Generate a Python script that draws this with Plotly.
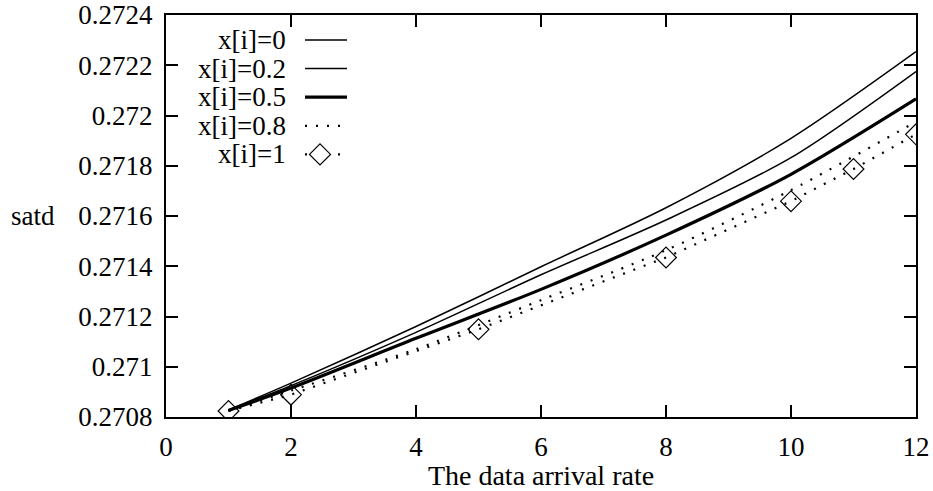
import plotly.graph_objects as go

# ---- data ----
x_lines = [1, 2, 4, 6, 8, 10, 12]
s_0 = [0.270828, 0.270935, 0.271160, 0.271398, 0.271633, 0.271909, 0.272254]
s_02 = [0.270828, 0.270925, 0.271137, 0.271366, 0.271584, 0.271832, 0.272175]
s_05 = [0.270826, 0.270915, 0.271113, 0.271308, 0.271524, 0.271766, 0.272066]
s_08 = [0.270824, 0.270905, 0.271070, 0.271265, 0.271464, 0.271703, 0.271975]
x_diam = [1, 2, 5, 8, 10, 11, 12]
s_1 = [0.270824, 0.270889, 0.271149, 0.271435, 0.271659, 0.271787, 0.271925]

labels = ["x[i]=0", "x[i]=0.2", "x[i]=0.5", "x[i]=0.8", "x[i]=1"]
x_ticks = [0, 2, 4, 6, 8, 10, 12]
y_ticks = [0.2708, 0.271, 0.2712, 0.2714, 0.2716, 0.2718, 0.272, 0.2722, 0.2724]
y_ticktext = ["0.2708", "0.271", "0.2712", "0.2714", "0.2716", "0.2718", "0.272", "0.2722", "0.2724"]

FONT = "'Liberation Serif', 'DejaVu Serif', serif"
FS = 27
W, H = 933, 491
ML, MR, MT, MB = 166, 17, 15, 74
PW = W - ML - MR
PH = H - MT - MB

styles = [
    dict(width=1.5, dash="solid"),
    dict(width=1.5, dash="solid"),
    dict(width=3.2, dash="solid"),
    dict(width=2.2, dash="2px,9px"),
    dict(width=2.2, dash="2px,9px"),
]

fig = go.Figure()
series = [(x_lines, s_0), (x_lines, s_02), (x_lines, s_05), (x_lines, s_08)]
for (xs, ys), st, lab in zip(series, styles[:4], labels[:4]):
    fig.add_trace(go.Scatter(x=xs, y=ys, mode="lines", name=lab, showlegend=False,
                             line=dict(color="black", width=st["width"], dash=st["dash"],
                                       shape="spline", smoothing=0.8)))
fig.add_trace(go.Scatter(x=x_diam, y=s_1, mode="lines+markers", name=labels[4], showlegend=False,
                         line=dict(color="black", width=styles[4]["width"], dash=styles[4]["dash"]),
                         marker=dict(symbol="diamond-open", size=16, color="black", line=dict(width=1.2))))

# ---- manual gnuplot-style legend (text right-aligned, sample on the right) ----
def px_to_paper_x(px):
    return (px - ML) / PW

def py_to_paper_y(py):
    return 1 - (py - MT) / PH

text_right = px_to_paper_x(288)
sx0, sx1 = px_to_paper_x(305), px_to_paper_x(347)
for i, (lab, st) in enumerate(zip(labels, styles)):
    yy = py_to_paper_y(40 + 28.6 * i)
    fig.add_annotation(x=text_right, y=yy, xref="paper", yref="paper", text=lab,
                       showarrow=False, xanchor="right", yanchor="middle",
                       font=dict(family=FONT, size=FS, color="black"))
    fig.add_shape(type="line", xref="paper", yref="paper", x0=sx0, x1=sx1, y0=yy, y1=yy,
                  line=dict(color="black", width=st["width"], dash=st["dash"]))
    if i == 4:
        cx, cy, r = 320, 40 + 28.6 * i, 10.5
        path = "M {} {} L {} {} L {} {} L {} {} Z".format(
            px_to_paper_x(cx - r), py_to_paper_y(cy), px_to_paper_x(cx), py_to_paper_y(cy - r),
            px_to_paper_x(cx + r), py_to_paper_y(cy), px_to_paper_x(cx), py_to_paper_y(cy + r))
        fig.add_shape(type="path", xref="paper", yref="paper", path=path,
                      fillcolor="white", line=dict(color="black", width=1.2))

fig.add_annotation(x=px_to_paper_x(57), y=0.2716, xref="paper", yref="y", text="satd",
                   showarrow=False, xanchor="right", yanchor="middle",
                   font=dict(family=FONT, size=FS, color="black"))

axis_common = dict(showgrid=False, zeroline=False, showline=True, linecolor="black", linewidth=2,
                   ticks="inside", ticklen=12, tickwidth=1.5, tickcolor="black", mirror="ticks",
                   automargin=False,
                   tickfont=dict(family=FONT, size=FS, color="black"))

fig.update_xaxes(range=[0, 12], tickvals=x_ticks, ticktext=[str(v) for v in x_ticks],
                 title=dict(text="The data arrival rate", font=dict(family=FONT, size=28, color="black"), standoff=2),
                 ticklabelstandoff=5, **axis_common)
fig.update_yaxes(range=[0.2708, 0.2724], tickvals=y_ticks, ticktext=y_ticktext,
                 ticklabelstandoff=6, **axis_common)

fig.update_layout(width=W, height=H, margin=dict(l=ML, r=MR, t=MT, b=MB, autoexpand=False),
                  plot_bgcolor="white", paper_bgcolor="white", showlegend=False,
                  font=dict(family=FONT, size=FS, color="black"))

fig.write_html("out.html")
